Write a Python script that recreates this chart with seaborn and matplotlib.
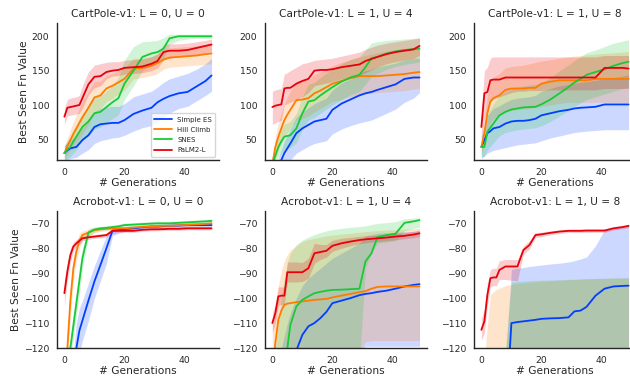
import matplotlib
matplotlib.use("Agg")
import matplotlib.pyplot as plt
import seaborn as sns
import numpy as np

# ---------------- data ----------------
GENS = [0, 1, 2, 3, 4, 5, 6, 8, 10, 12, 14, 16, 18, 20, 23, 26, 29, 31, 33, 35, 38, 41, 44, 47, 49]
METHODS = ["Simple ES", "Hill Climb", "SNES", "PaLM2-L"]
TITLES = ["CartPole-v1: L = 0, U = 0", "CartPole-v1: L = 1, U = 4", "CartPole-v1: L = 1, U = 8",
          "Acrobot-v1: L = 0, U = 0", "Acrobot-v1: L = 1, U = 4", "Acrobot-v1: L = 1, U = 8"]
CP_TICKS = [50, 100, 150, 200]
AC_TICKS = [-120, -110, -100, -90, -80, -70]
X_TICKS = [0, 20, 40]

# CartPole L=0, U=0
CP00_SES = [30, 34, 37, 38, 39, 44, 49, 56, 68, 72, 73, 74, 74, 78, 87, 92, 96, 104, 109, 113, 117, 119, 127, 135, 143]
CP00_SES_LO = [18, 20, 22, 23, 24, 27, 30, 35, 44, 48, 50, 52, 53, 56, 62, 67, 70, 76, 82, 88, 95, 98, 106, 114, 120]
CP00_SES_HI = [42, 46, 50, 52, 54, 60, 66, 76, 90, 95, 97, 98, 98, 102, 112, 116, 120, 126, 133, 138, 142, 146, 152, 160, 168]
CP00_HC = [30, 40, 49, 58, 66, 74, 82, 96, 111, 114, 124, 128, 133, 138, 153, 154, 157, 161, 166, 169, 170, 171, 172, 174, 175]
CP00_HC_LO = [22, 28, 34, 40, 46, 52, 58, 72, 88, 95, 105, 110, 116, 122, 138, 140, 143, 146, 152, 155, 156, 157, 158, 159, 160]
CP00_HC_HI = [38, 52, 64, 76, 86, 96, 106, 120, 134, 135, 143, 146, 150, 154, 168, 168, 171, 175, 180, 183, 184, 185, 186, 188, 189]
CP00_SN = [30, 35, 39, 47, 54, 61, 68, 76, 88, 90, 97, 104, 110, 131, 150, 170, 175, 177, 182, 197, 200, 200, 200, 200, 200]
CP00_SN_LO = [20, 22, 25, 30, 35, 42, 48, 55, 65, 68, 74, 80, 86, 108, 128, 150, 158, 162, 168, 188, 194, 196, 197, 197, 197]
CP00_SN_HI = [40, 48, 55, 64, 72, 80, 88, 97, 112, 114, 120, 128, 140, 165, 185, 192, 193, 194, 198, 203, 203, 203, 203, 203, 203]
CP00_PL = [83, 96, 97, 98, 99, 100, 110, 130, 141, 142, 148, 150, 151, 154, 155, 156, 160, 164, 177, 179, 179, 180, 183, 186, 188]
CP00_PL_LO = [72, 84, 85, 86, 87, 88, 95, 115, 125, 128, 138, 142, 143, 145, 146, 147, 150, 154, 166, 168, 170, 171, 173, 176, 178]
CP00_PL_HI = [95, 108, 110, 111, 112, 114, 128, 148, 158, 160, 162, 163, 163, 165, 166, 167, 170, 174, 188, 189, 189, 190, 192, 194, 196]

# CartPole L=1, U=4
CP14_SES = [0, 5, 10, 20, 30, 37, 44, 59, 66, 71, 76, 78, 80, 93, 102, 108, 114, 117, 119, 122, 126, 130, 138, 140, 140]
CP14_SES_LO = [-10, -6, -2, 5, 12, 16, 20, 30, 35, 40, 44, 46, 48, 58, 65, 70, 74, 76, 78, 82, 88, 94, 104, 110, 118]
CP14_SES_HI = [10, 16, 22, 35, 48, 56, 65, 82, 90, 96, 102, 106, 110, 122, 132, 138, 146, 150, 152, 155, 158, 161, 166, 168, 168]
CP14_HC = [14, 39, 54, 66, 78, 86, 93, 107, 108, 110, 117, 121, 126, 131, 135, 139, 142, 142, 142, 142, 143, 144, 145, 147, 148]
CP14_HC_LO = [5, 22, 34, 44, 54, 60, 66, 78, 80, 84, 90, 95, 100, 105, 108, 112, 115, 116, 117, 118, 119, 120, 121, 123, 124]
CP14_HC_HI = [24, 55, 74, 88, 102, 112, 120, 134, 136, 137, 144, 148, 152, 157, 162, 166, 170, 172, 174, 176, 178, 180, 182, 184, 186]
CP14_SN = [13, 26, 39, 47, 54, 55, 56, 66, 88, 105, 107, 114, 120, 126, 134, 140, 144, 155, 168, 170, 175, 178, 180, 181, 182]
CP14_SN_LO = [5, 14, 24, 30, 35, 36, 38, 45, 64, 78, 82, 88, 94, 100, 108, 115, 120, 130, 142, 146, 152, 156, 159, 161, 163]
CP14_SN_HI = [22, 38, 54, 64, 72, 74, 76, 88, 112, 130, 133, 140, 146, 152, 160, 166, 170, 180, 190, 192, 194, 195, 196, 197, 197]
CP14_PL = [97, 99, 100, 101, 124, 125, 125, 131, 135, 138, 150, 151, 151, 152, 155, 157, 159, 164, 167, 170, 174, 177, 179, 181, 186]
CP14_PL_LO = [72, 74, 76, 78, 100, 102, 104, 108, 112, 118, 128, 130, 132, 134, 138, 140, 143, 147, 151, 155, 160, 163, 166, 168, 172]
CP14_PL_HI = [120, 122, 123, 124, 145, 147, 150, 155, 160, 162, 165, 166, 167, 168, 171, 174, 177, 181, 184, 187, 190, 192, 194, 196, 198]

# CartPole L=1, U=8
CP18_SES = [39, 49, 59, 62, 66, 67, 68, 73, 76, 77, 77, 78, 80, 85, 88, 91, 93, 95, 96, 96.5, 97.4, 100.8, 100.8, 100.8, 100.8]
CP18_SES_LO = [22, 26, 30, 32, 34, 35, 36, 38, 40, 42, 43, 44, 45, 48, 52, 55, 58, 60, 61, 62, 63, 64, 64, 64, 64]
CP18_SES_HI = [55, 70, 85, 90, 95, 97, 99, 104, 108, 110, 111, 112, 114, 120, 124, 128, 130, 132, 133, 134, 136, 138, 140, 142, 144]
CP18_HC = [39, 59, 88, 105, 110, 112, 114, 122, 124, 124, 124, 125, 125, 131, 134, 136, 136, 136, 136, 136, 138, 138, 138, 138, 138]
CP18_HC_LO = [30, 40, 60, 75, 80, 82, 84, 90, 92, 93, 94, 95, 96, 98, 100, 102, 104, 104, 104, 104, 104, 104, 104, 104, 104]
CP18_HC_HI = [48, 80, 115, 135, 140, 143, 146, 154, 156, 157, 158, 160, 162, 164, 166, 168, 170, 171, 172, 173, 174, 175, 176, 177, 178]
CP18_SN = [39, 39, 61, 67, 73, 79, 85, 90, 93.5, 95, 96.5, 97, 97.4, 101, 108, 117, 126, 133, 138, 144, 148, 152, 157, 161, 163]
CP18_SN_LO = [25, 25, 35, 40, 45, 50, 55, 60, 62, 64, 65, 66, 67, 70, 76, 84, 92, 98, 103, 108, 112, 116, 120, 124, 126]
CP18_SN_HI = [52, 52, 85, 95, 102, 108, 114, 120, 124, 126, 128, 129, 130, 133, 140, 150, 158, 165, 170, 176, 180, 185, 190, 193, 195]
CP18_PL = [68, 117, 119, 136, 137, 137, 137, 140, 140, 140, 140, 140, 140, 140, 140, 140, 140, 140, 140, 140, 140, 154, 154, 154, 153]
CP18_PL_LO = [45, 80, 95, 105, 108, 110, 112, 115, 118, 120, 120, 121, 121, 121, 122, 122, 122, 122, 122, 122, 122, 124, 124, 124, 124]
CP18_PL_HI = [90, 150, 155, 168, 170, 170, 170, 170, 170, 170, 170, 170, 170, 170, 170, 170, 170, 170, 170, 170, 170, 172, 172, 172, 172]

# Acrobot L=0, U=0
AC00_SES = [-150, -145, -140, -132, -120, -113, -109, -101, -93.3, -86.7, -80, -73, -72.7, -72.3, -72, -71.6, -71.3, -71.3, -71.1, -71, -70.9, -70.7, -70.7, -70.7, -70.7]
AC00_SES_LO = [-160, -155, -150, -142, -130, -122, -117, -109, -100, -93, -86, -75, -74, -73.3, -72.9, -72.5, -72.2, -72.2, -72, -71.9, -71.8, -71.6, -71.6, -71.6, -71.6]
AC00_SES_HI = [-140, -135, -130, -122, -110, -104, -101, -94, -87, -81, -75, -71.5, -71.4, -71.3, -71.1, -70.7, -70.4, -70.4, -70.2, -70.1, -70, -69.8, -69.8, -69.8, -69.8]
AC00_HC = [-135, -120, -101, -88, -81.3, -77, -74.7, -73.7, -72.7, -72.4, -72.2, -72, -72, -72, -71.7, -71.4, -71.3, -71.1, -71, -71, -70.8, -70.6, -70.4, -70.2, -70]
AC00_HC_LO = [-140, -127, -107, -93, -85, -80, -76.5, -75, -73.8, -73.3, -73, -72.8, -72.7, -72.6, -72.4, -72.1, -72, -71.8, -71.7, -71.7, -71.5, -71.3, -71.1, -70.9, -70.7]
AC00_HC_HI = [-130, -113, -95, -83, -77.6, -74, -73, -72.4, -71.6, -71.5, -71.4, -71.2, -71.3, -71.4, -71, -70.7, -70.6, -70.4, -70.3, -70.3, -70.1, -69.9, -69.7, -69.5, -69.3]
AC00_SN = [-140, -130, -120, -111, -102, -93, -84, -73.7, -72.5, -72, -71.8, -71.5, -71.2, -70.7, -70.5, -70.3, -70.1, -70, -70, -70, -69.8, -69.6, -69.4, -69.2, -69]
AC00_SN_LO = [-146, -136, -125, -116, -107, -98, -88, -75.5, -73.5, -72.8, -72.6, -72.3, -72, -71.5, -71.3, -71.1, -70.9, -70.8, -70.8, -70.8, -70.6, -70.4, -70.2, -70, -69.8]
AC00_SN_HI = [-134, -124, -115, -106, -97, -88, -80, -72, -71.5, -71.2, -71, -70.7, -70.4, -69.9, -69.7, -69.5, -69.3, -69.2, -69.2, -69.2, -69, -68.8, -68.6, -68.4, -68.2]
AC00_PL = [-98, -89.3, -82.7, -79.3, -78, -77, -76, -75.6, -75.3, -75, -74.7, -73, -73, -73, -73, -72.6, -72.4, -72.4, -72.3, -72.2, -72.2, -72, -72, -72, -72]
AC00_PL_LO = [-103, -93, -85.5, -81, -79.5, -78.5, -77, -76.5, -76, -75.8, -75.5, -74, -73.7, -73.6, -73.6, -73.2, -73, -73, -72.9, -72.8, -72.8, -72.6, -72.6, -72.6, -72.6]
AC00_PL_HI = [-93, -85.5, -80, -77.5, -76.5, -75.5, -75, -74.7, -74.5, -74.2, -74, -72, -72.3, -72.4, -72.4, -72, -71.8, -71.8, -71.7, -71.6, -71.6, -71.4, -71.4, -71.4, -71.4]

# Acrobot L=1, U=4
AC14_SES = [-150, -145, -140, -138, -135, -132, -128, -121, -114.7, -111.3, -110, -108, -105.5, -102, -101, -100, -98.8, -98.3, -98, -97.5, -97, -96.2, -95.3, -94.7, -94.4]
AC14_SES_LO = [-160, -158, -155, -153, -150, -148, -146, -140, -136, -133, -132, -130, -128, -126, -125, -124, -123, -119.3, -119.3, -119.3, -119.3, -119.3, -119.3, -119.3, -119.3]
AC14_SES_HI = [-135, -130, -125, -120, -115, -110, -106, -100, -95, -92, -90, -88, -86, -84, -82, -80, -78, -75, -74.5, -74, -73.8, -73.6, -73.4, -73.2, -73]
AC14_HC = [-130, -118, -108.7, -105, -102.7, -102.2, -102, -101.6, -101.3, -101, -100.7, -100.5, -100.3, -99.7, -99, -98.3, -97.6, -97.2, -96.2, -95.5, -95.3, -95.3, -95.3, -95.3, -95.3]
AC14_HC_LO = [-140, -135, -130, -128, -126, -124, -122, -121, -121, -121, -121, -121, -121, -121, -121, -121, -121, -117.5, -117, -117, -117, -117, -117, -117, -117]
AC14_HC_HI = [-112, -102, -95, -89, -85, -82.5, -80.7, -79, -77.3, -76.5, -76, -75.5, -75, -74.7, -74.3, -74, -73.6, -73.3, -73.1, -72.9, -72.7, -72.5, -72.3, -72.1, -72]
AC14_SN = [-150, -145, -140, -135, -128, -120, -110.7, -103.3, -100.7, -99.3, -98, -97.5, -97, -96.7, -96.6, -96.4, -96.2, -85.3, -82, -75.5, -74.7, -74.2, -69.8, -69.2, -68.7]
AC14_SN_LO = [-160, -158, -155, -152, -148, -145, -140, -135, -130, -128, -127, -126, -125, -125, -125, -125, -125, -88, -82, -78, -77.5, -77, -73, -72, -71.5]
AC14_SN_HI = [-130, -120, -110, -100, -92, -86, -82, -78.5, -76.7, -75.5, -74.5, -73.7, -73, -72.5, -72, -71.6, -71.3, -71, -70.5, -70, -69.7, -69.3, -68.2, -67.9, -67.8]
AC14_PL = [-110, -106, -99.3, -99, -99, -89.6, -89.6, -89.6, -89.6, -88, -82, -81.5, -81, -79, -78, -77.3, -76.7, -76.4, -76.2, -76, -75.7, -75.3, -75, -74.5, -74]
AC14_PL_LO = [-114, -110, -103, -102.5, -102.5, -93.5, -93.5, -93.5, -93.3, -92, -86, -84.5, -83.5, -81.2, -80, -79, -78.2, -77.8, -77.5, -77.3, -77, -76.6, -76.2, -75.8, -75.3]
AC14_PL_HI = [-106, -102, -95.5, -95.5, -95.5, -85.5, -85.5, -85.5, -85.7, -84, -78, -78.5, -78.5, -76.8, -76, -75.6, -75.2, -75, -74.9, -74.7, -74.4, -74, -73.8, -73.2, -72.7]

# Acrobot L=1, U=8
AC18_SES = [-160, -158, -156, -154, -152, -150, -150, -150, -110, -109.6, -109.3, -109, -108.7, -108.3, -108.1, -108, -107.7, -105.3, -105, -103.5, -99, -96.2, -95.3, -95.1, -95]
AC18_SES_LO = [-170, -170, -170, -170, -170, -170, -170, -170, -145, -145, -145, -145, -145, -145, -145, -145, -145, -145, -145, -145, -145, -145, -145, -145, -145]
AC18_SES_HI = [-150, -145, -140, -135, -130, -128, -126, -125, -88.5, -88, -87.7, -87.3, -87, -86.7, -86.3, -86, -85.5, -85, -84.3, -83.5, -79, -72.5, -72, -71.3, -70.7]
AC18_HC = [-160, -150, -145, -140, -138, -136, -134, -132, -130, -129, -128, -127.5, -127, -126.5, -126, -125.5, -125, -125, -124.5, -124.5, -124, -124, -124, -124, -124]
AC18_HC_LO = [-175, -165, -160, -155, -153, -151, -149, -147, -145, -144, -143, -142.5, -142, -141.5, -141, -140.5, -140, -140, -139.5, -139.5, -139, -139, -139, -139, -139]
AC18_HC_HI = [-140, -125, -110.7, -98.7, -97.5, -96.5, -96, -95, -94.5, -94, -93.8, -93.6, -93.4, -93.2, -93, -92.8, -92.6, -92.5, -92.4, -92.3, -92.2, -92.1, -92, -92, -92]
AC18_SN = [-160, -158, -155, -152, -150, -148, -146, -144, -135, -133, -132, -131, -130, -129.5, -129, -128.5, -128, -127.5, -127, -126.5, -126, -125.5, -125, -125, -125]
AC18_SN_LO = [-175, -173, -170, -167, -165, -163, -161, -159, -150, -148, -147, -146, -145, -144.5, -144, -143.5, -143, -142.5, -142, -141.5, -141, -140.5, -140, -140, -140]
AC18_SN_HI = [-150, -145, -140, -135, -130, -126, -123, -120, -93.5, -93.3, -93.2, -93, -92.9, -92.8, -92.7, -92.6, -92.5, -92.4, -92.3, -92.2, -92.1, -92, -91.9, -91.8, -91.7]
AC18_PL = [-112.7, -109.3, -98.7, -92, -91.7, -91.7, -88.7, -87.3, -87.3, -87.3, -80.7, -78.7, -74.7, -74.4, -73.8, -73.3, -73, -73, -73, -72.9, -72.9, -72.9, -72, -71.5, -71]
AC18_PL_LO = [-117, -114, -103, -95.5, -95, -95, -92.5, -92.5, -92.8, -93, -82.5, -80.3, -75.7, -75.3, -74.6, -74, -73.7, -73.7, -73.7, -73.6, -73.6, -73.6, -72.7, -72.2, -71.7]
AC18_PL_HI = [-108, -104.5, -94, -88.5, -88, -88, -85, -84.5, -84.5, -84.5, -79, -77, -73.7, -73.5, -73, -72.6, -72.3, -72.3, -72.3, -72.2, -72.2, -72.2, -71.3, -70.8, -70.3]

PANELS = [
    [(CP00_SES, CP00_SES_LO, CP00_SES_HI), (CP00_HC, CP00_HC_LO, CP00_HC_HI), (CP00_SN, CP00_SN_LO, CP00_SN_HI), (CP00_PL, CP00_PL_LO, CP00_PL_HI)],
    [(CP14_SES, CP14_SES_LO, CP14_SES_HI), (CP14_HC, CP14_HC_LO, CP14_HC_HI), (CP14_SN, CP14_SN_LO, CP14_SN_HI), (CP14_PL, CP14_PL_LO, CP14_PL_HI)],
    [(CP18_SES, CP18_SES_LO, CP18_SES_HI), (CP18_HC, CP18_HC_LO, CP18_HC_HI), (CP18_SN, CP18_SN_LO, CP18_SN_HI), (CP18_PL, CP18_PL_LO, CP18_PL_HI)],
    [(AC00_SES, AC00_SES_LO, AC00_SES_HI), (AC00_HC, AC00_HC_LO, AC00_HC_HI), (AC00_SN, AC00_SN_LO, AC00_SN_HI), (AC00_PL, AC00_PL_LO, AC00_PL_HI)],
    [(AC14_SES, AC14_SES_LO, AC14_SES_HI), (AC14_HC, AC14_HC_LO, AC14_HC_HI), (AC14_SN, AC14_SN_LO, AC14_SN_HI), (AC14_PL, AC14_PL_LO, AC14_PL_HI)],
    [(AC18_SES, AC18_SES_LO, AC18_SES_HI), (AC18_HC, AC18_HC_LO, AC18_HC_HI), (AC18_SN, AC18_SN_LO, AC18_SN_HI), (AC18_PL, AC18_PL_LO, AC18_PL_HI)],
]

# ---------------- style ----------------
sns.set_style("white")
plt.rcParams["font.family"] = ["DejaVu Sans"]
COLORS = sns.color_palette("bright", 4)
TEXT = "#262626"

fig, axes = plt.subplots(2, 3, figsize=(6.3, 3.77), dpi=100)
W, H = 0.257, 0.3634
LEFTS = [0.0905, 0.4206, 0.7524]
BOTTOMS = [0.5756, 0.0769]

for idx, ax in enumerate(axes.flat):
    r, c = divmod(idx, 3)
    ax.set_position([LEFTS[c], BOTTOMS[r], W, H])
    for m, (mean, lo, hi) in enumerate(PANELS[idx]):
        ax.fill_between(GENS, lo, hi, color=COLORS[m], alpha=0.2, linewidth=0)
        sns.lineplot(x=GENS, y=mean, ax=ax, color=COLORS[m], linewidth=1.3,
                     label=METHODS[m] if idx == 0 else None, legend=False)
    ax.set_xlim(-2.45, 51.45)
    if r == 0:
        ax.set_ylim(20, 219.3)
        ax.set_yticks(CP_TICKS)
    else:
        ax.set_ylim(-120, -65.05)
        ax.set_yticks(AC_TICKS)
    ax.set_xticks(X_TICKS)
    ax.tick_params(labelsize=6.7, colors=TEXT, pad=2)
    ax.set_title(TITLES[idx], fontsize=7.7, color=TEXT, pad=4)
    ax.set_xlabel("# Generations", fontsize=7.7, color=TEXT, labelpad=1)
    if c == 0:
        ax.set_ylabel("Best Seen Fn Value", fontsize=7.7, color=TEXT, labelpad=2)
    for s in ["left", "bottom"]:
        ax.spines[s].set_color("#262626")
        ax.spines[s].set_linewidth(1.0)
    sns.despine(ax=ax)

axes[0, 0].legend(loc="lower right", fontsize=5, frameon=True, handlelength=2.5,
                  borderpad=0.5, labelspacing=0.6, handletextpad=0.8)

fig.savefig("out.png", dpi=100)
